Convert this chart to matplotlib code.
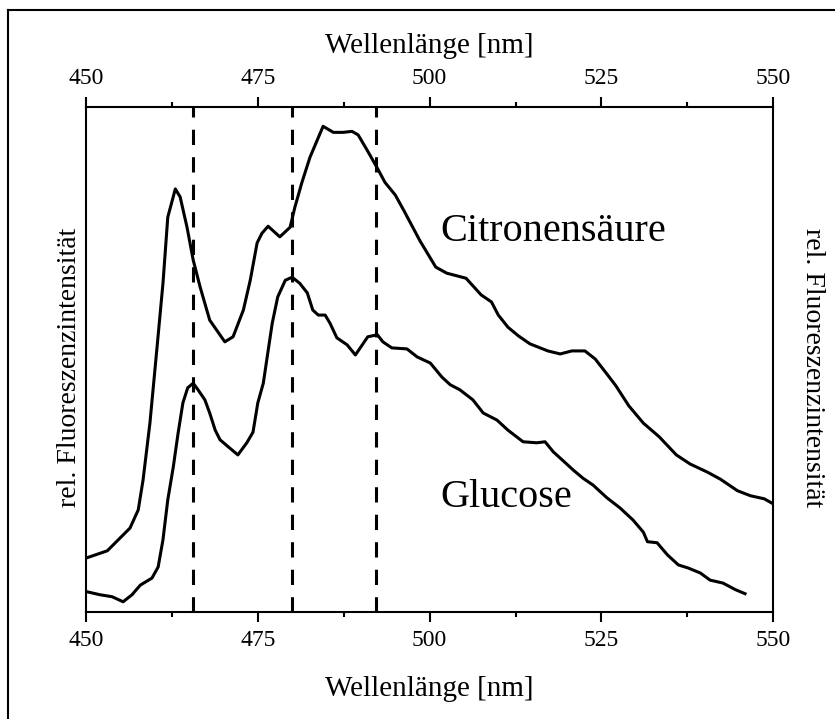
import numpy as np
import matplotlib.pyplot as plt
from matplotlib.lines import Line2D
from matplotlib.ticker import MultipleLocator

plt.rcParams['font.family'] = ['Liberation Serif', 'DejaVu Serif']

# Citronensäure (obere Kurve)
wl_citro = [450.1, 453.1, 456.4, 457.6, 458.3, 459.3, 460.3, 461.2, 461.9, 463.0,
            463.7, 464.7, 465.6, 466.6, 468.0, 470.2, 471.4, 472.9, 473.9, 474.9,
            475.6, 476.5, 478.2, 479.7, 480.4, 481.4, 482.6, 484.5, 486.0, 487.4,
            488.7, 489.6, 490.9, 492.4, 493.5, 495.0, 496.3, 498.6, 500.9, 502.5,
            505.3, 507.5, 509.0, 510.0, 511.4, 512.9, 514.6, 517.2, 519.0, 520.7,
            522.6, 524.1, 525.7, 527.1, 529.0, 531.1, 533.4, 535.9, 537.9, 540.4,
            542.3, 544.8, 546.7, 548.7, 550.0]
int_citro = [10.7, 12.1, 16.6, 20.2, 26.1, 37.4, 51.9, 65.1, 78.2, 83.8,
             82.2, 76.2, 69.7, 64.4, 57.8, 53.5, 54.5, 59.8, 65.7, 73.1,
             75.0, 76.4, 74.3, 76.2, 80.2, 85.0, 90.1, 96.2, 95.0, 95.0,
             95.2, 94.5, 91.5, 87.9, 85.1, 82.6, 79.4, 73.5, 68.3, 67.1,
             66.1, 62.8, 61.4, 58.8, 56.4, 54.7, 53.1, 51.7, 51.1, 51.7,
             51.7, 50.1, 47.3, 44.8, 40.8, 37.4, 34.7, 31.1, 29.3, 27.7,
             26.3, 24.0, 23.0, 22.4, 21.4]

# Glucose (untere Kurve)
wl_gluc = [450.1, 452.0, 453.8, 455.4, 456.7, 457.9, 459.6, 460.5, 461.2, 461.9,
           462.7, 463.4, 464.1, 464.8, 465.6, 466.3, 467.3, 468.0, 468.8, 469.5,
           470.7, 472.1, 473.4, 474.3, 475.0, 475.8, 476.3, 477.1, 477.9, 479.0,
           480.0, 481.1, 482.2, 483.0, 483.8, 484.8, 485.5, 486.5, 488.0, 489.2,
           490.2, 491.0, 492.4, 493.2, 494.5, 496.7, 498.2, 500.1, 501.8, 503.0,
           504.4, 506.3, 507.8, 509.8, 511.4, 513.6, 515.6, 516.8, 518.0, 519.3,
           520.9, 522.3, 523.8, 525.8, 527.7, 529.6, 531.1, 531.7, 533.1, 534.6,
           536.2, 537.6, 539.4, 540.8, 542.7, 544.5, 545.9]
int_gluc = [4.0, 3.4, 3.0, 2.0, 3.4, 5.3, 6.7, 8.9, 14.3, 22.2,
            28.7, 35.4, 41.4, 44.4, 45.3, 44.0, 42.0, 39.4, 36.0, 34.1,
            32.7, 31.1, 33.5, 35.6, 41.4, 45.3, 49.9, 57.2, 62.4, 65.7,
            66.3, 65.1, 63.2, 59.8, 58.8, 58.8, 57.2, 54.3, 52.9, 50.9,
            52.9, 54.5, 54.9, 53.5, 52.3, 52.1, 50.5, 49.3, 46.5, 45.0,
            44.0, 42.0, 39.4, 38.0, 36.0, 33.7, 33.5, 33.7, 31.7, 30.1,
            28.1, 26.5, 25.1, 22.6, 20.6, 18.2, 15.8, 13.9, 13.7, 11.3,
            9.3, 8.7, 7.7, 6.3, 5.7, 4.4, 3.6]

peaks = [465.6, 480.0, 492.2]

fig = plt.figure(figsize=(8.35, 7.19), dpi=100)
ax = fig.add_axes([0.103, 0.149, 0.823, 0.702])

ax.plot(wl_citro, int_citro, color='black', lw=2.2, solid_joinstyle='round')
ax.plot(wl_gluc, int_gluc, color='black', lw=2.2, solid_joinstyle='round')
for p in peaks:
    ax.axvline(p, color='black', lw=2.2, ls=(0, (5, 4)))

ax.text(501.5, 75.4, 'Citronensäure', fontsize=29, va='center', ha='left')
ax.text(501.5, 22.6, 'Glucose', fontsize=29, va='center', ha='left')

ax.set_xlim(450, 550)
ax.set_ylim(0, 100)
ax.xaxis.set_major_locator(MultipleLocator(25))
ax.xaxis.set_minor_locator(MultipleLocator(12.5))
ax.set_yticks([])
for s in ax.spines.values():
    s.set_linewidth(1.5)
ax.tick_params(axis='x', which='major', direction='out', length=7, width=1.5,
               labelsize=17, pad=6, top=True, labeltop=True)
ax.tick_params(axis='x', which='minor', direction='out', length=3.6, width=1.5, top=True)
ax.set_xlabel('Wellenlänge [nm]', fontsize=21, labelpad=18)

top = ax.secondary_xaxis('top')
top.set_xticks([])
top.set_xlabel('Wellenlänge [nm]', fontsize=21, labelpad=39)
top.spines['top'].set_visible(False)

fig.text(70/835, 0.5 - 8/719, 'rel. Fluoreszenzintensität', rotation=90, fontsize=20,
         ha='center', va='center')
fig.text(812/835, 0.5 - 8/719, 'rel. Fluoreszenzintensität', rotation=270, fontsize=20,
         ha='center', va='center')

# Rahmen oben und links
fig.add_artist(Line2D([8/835, 8/835], [0, 1 - 10/719], color='black', lw=1.5))
fig.add_artist(Line2D([8/835, 1], [1 - 10/719, 1 - 10/719], color='black', lw=1.5))

fig.savefig('out.png', dpi=100)
